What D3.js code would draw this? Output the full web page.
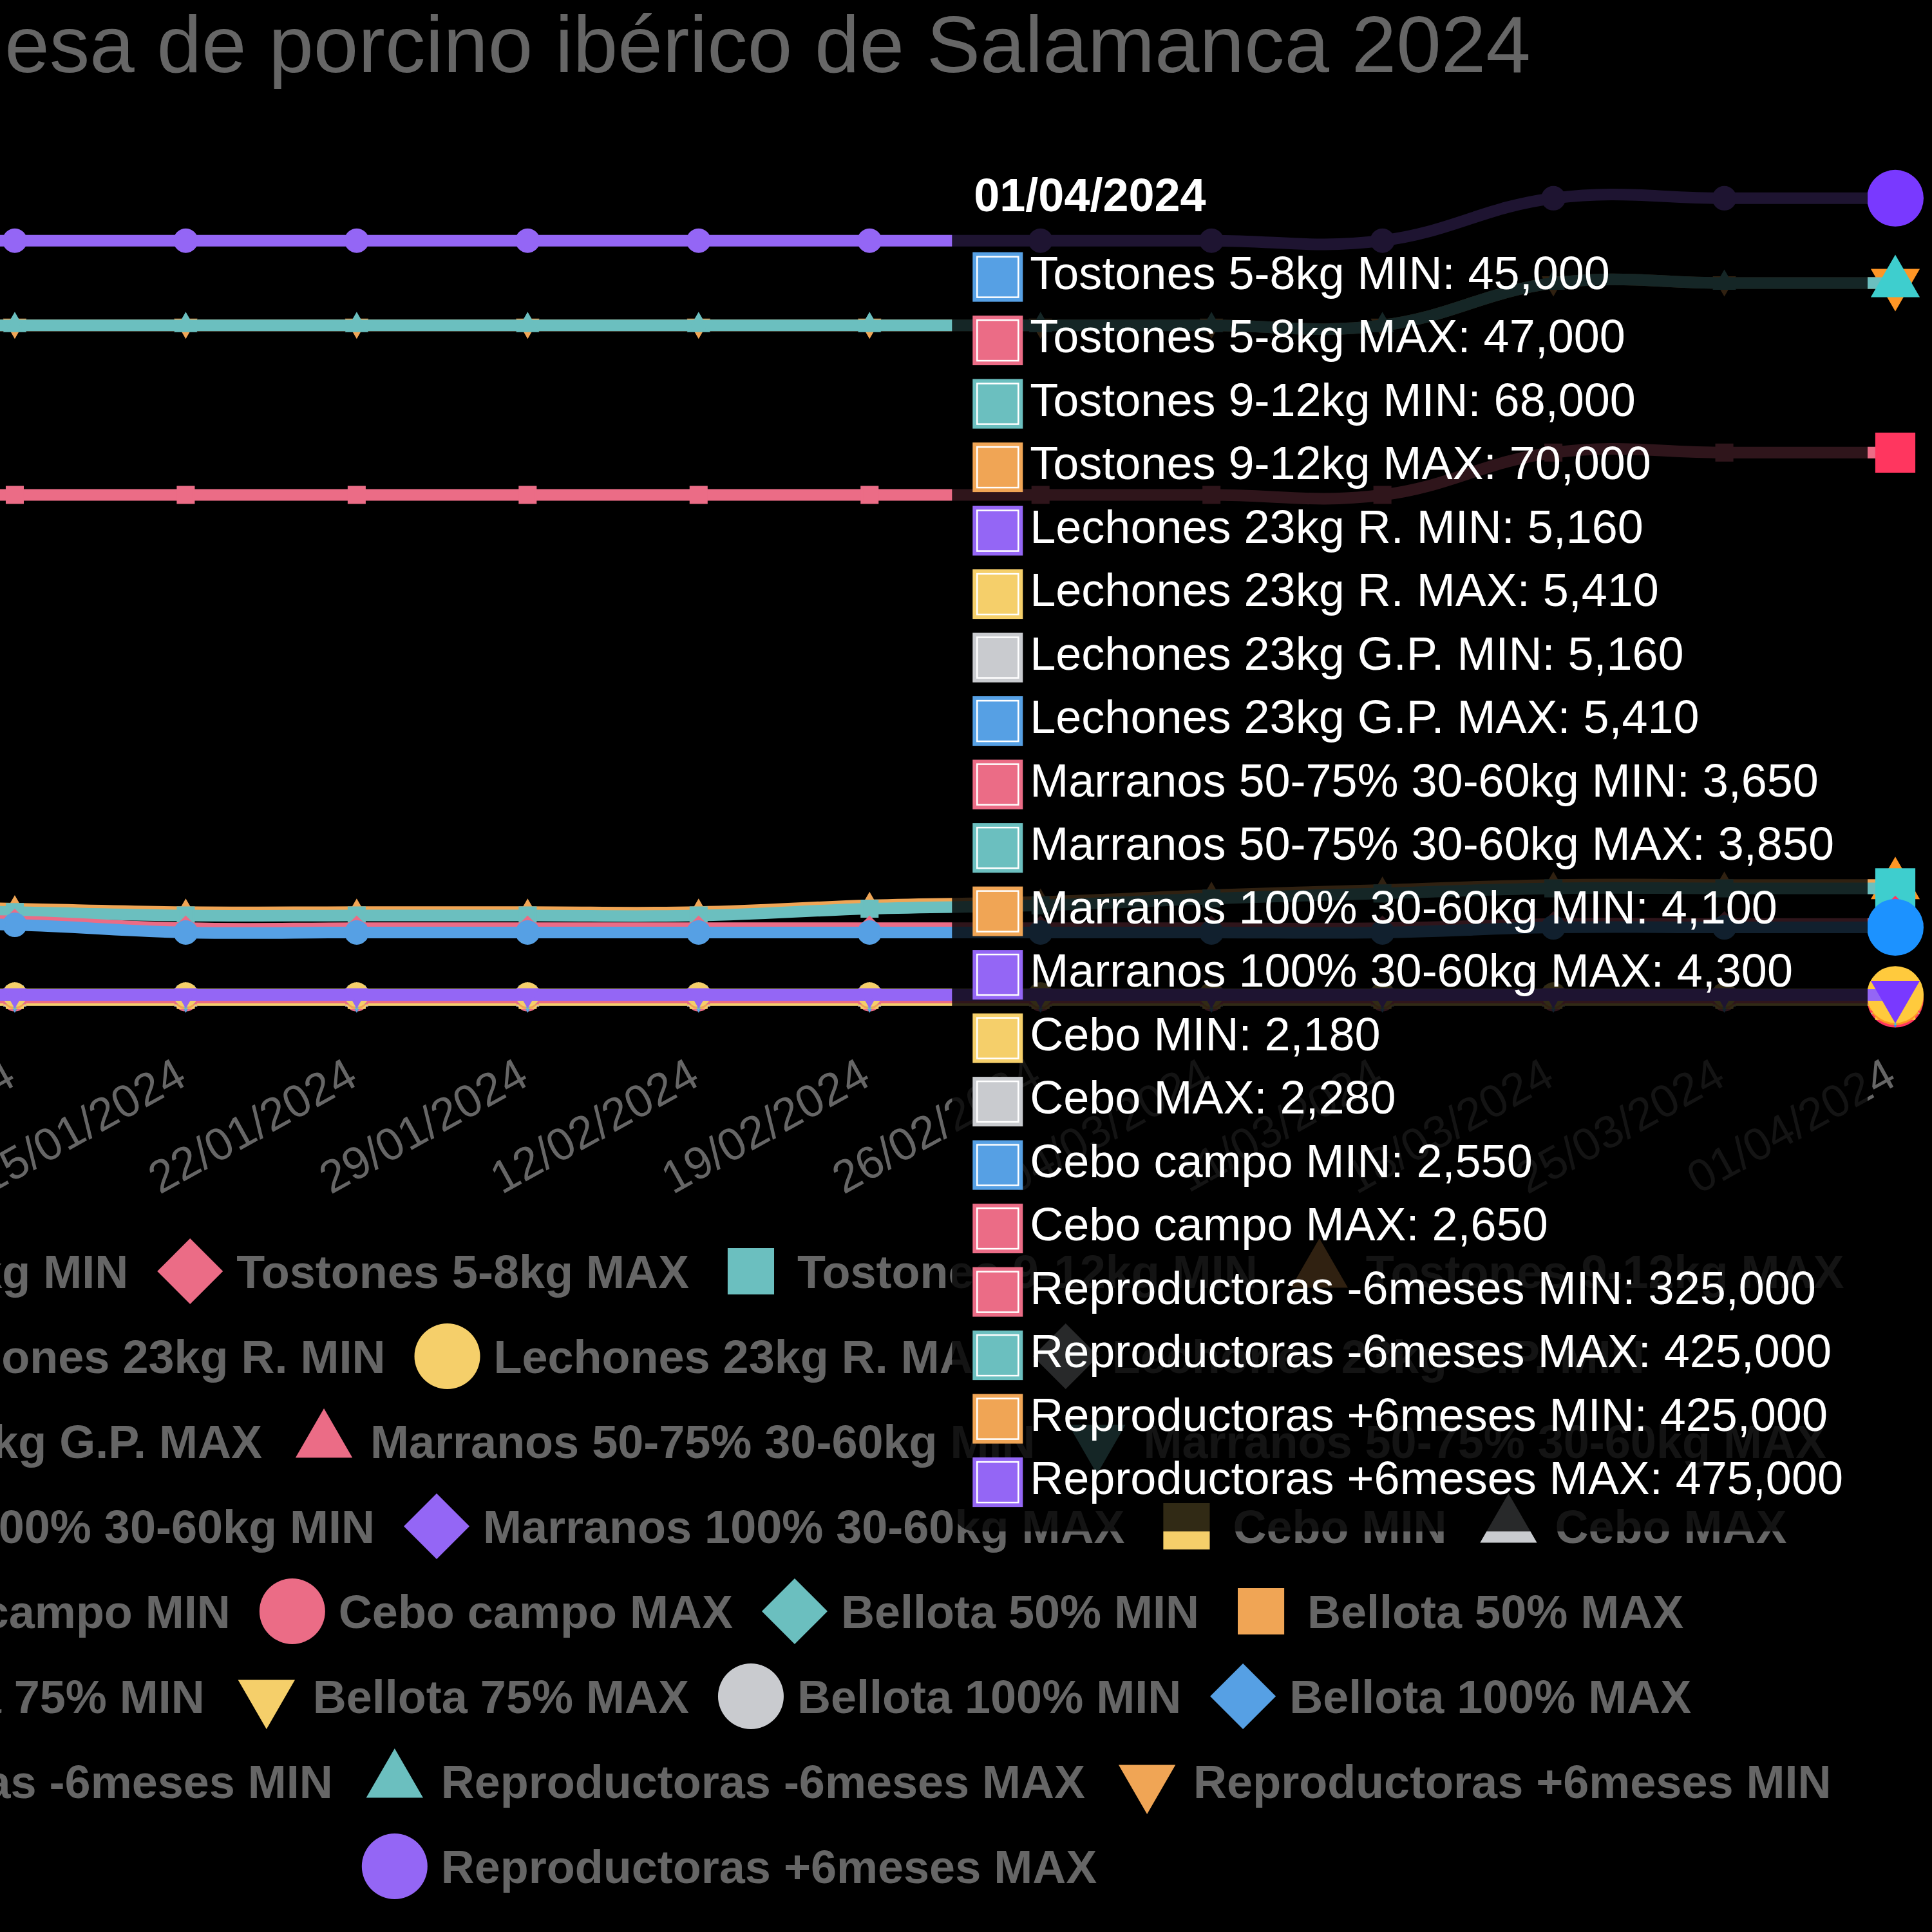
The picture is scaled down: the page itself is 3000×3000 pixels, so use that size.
<!DOCTYPE html>
<html lang="es">
<head>
<meta charset="utf-8">
<title>Mesa de porcino ibérico de Salamanca 2024</title>
<script src="https://cdn.jsdelivr.net/npm/d3@7"></script>
<style>
  body { margin: 0; background: #000; }
  svg { display: block; }
  text { font-family: "Liberation Sans", Arial, Helvetica, sans-serif; }
</style>
</head>
<body>
<svg id="chart" width="3000" height="3000"></svg>
<script>
// fechas de sesión (semanal)
const fechas = ["02/01/2024", "08/01/2024", "15/01/2024", "22/01/2024", "29/01/2024", "12/02/2024",
  "19/02/2024", "26/02/2024", "04/03/2024", "11/03/2024", "18/03/2024", "25/03/2024", "01/04/2024"];

// precios por categoría (null = sin cotización)
const tostones58Min  = [48000, 46500, 42000, 42000, 42000, 42000, 42000, 42000, 42000, 42000, 45000, 45000, 45000];
const tostones58Max  = [50000, 48500, 44500, 44500, 44500, 44500, 44500, 44500, 44500, 44500, 47000, 47000, 47000];
const tostones912Min = [56000, 54000, 52000, 52000, 52000, 52000, 56000, 58000, 62000, 65000, 68000, 68000, 68000];
const tostones912Max = [58000, 56000, 54000, 54000, 54000, 54000, 58000, 60000, 64000, 67000, 70000, 70000, 70000];
const lechonesRMin   = [5160, 5160, 5160, 5160, 5160, 5160, 5160, 5160, 5160, 5160, 5160, 5160, 5160];
const lechonesRMax   = [5410, 5410, 5410, 5410, 5410, 5410, 5410, 5410, 5410, 5410, 5410, 5410, 5410];
const lechonesGPMin  = [5160, 5160, 5160, 5160, 5160, 5160, 5160, 5160, 5160, 5160, 5160, 5160, 5160];
const lechonesGPMax  = [5410, 5410, 5410, 5410, 5410, 5410, 5410, 5410, 5410, 5410, 5410, 5410, 5410];
const marranos5075Min = [3650, 3650, 3650, 3650, 3650, 3650, 3650, 3650, 3650, 3650, 3650, 3650, 3650];
const marranos5075Max = [3850, 3850, 3850, 3850, 3850, 3850, 3850, 3850, 3850, 3850, 3850, 3850, 3850];
const marranos100Min = [4100, 4100, 4100, 4100, 4100, 4100, 4100, 4100, 4100, 4100, 4100, 4100, 4100];
const marranos100Max = [4300, 4300, 4300, 4300, 4300, 4300, 4300, 4300, 4300, 4300, 4300, 4300, 4300];
const ceboMin        = [2180, 2180, 2180, 2180, 2180, 2180, 2180, 2180, 2180, 2180, 2180, 2180, 2180];
const ceboMax        = [2280, 2280, 2280, 2280, 2280, 2280, 2280, 2280, 2280, 2280, 2280, 2280, 2280];
const ceboCampoMin   = [2550, 2550, 2550, 2550, 2550, 2550, 2550, 2550, 2550, 2550, 2550, 2550, 2550];
const ceboCampoMax   = [2650, 2650, 2650, 2650, 2650, 2650, 2650, 2650, 2650, 2650, 2650, 2650, 2650];
const bellota50Min   = [3300, 3300, 3300, 3300, 3300, 3300, 3300, 3300, 3300, 3300, null, null, null];
const bellota50Max   = [3450, 3450, 3450, 3450, 3450, 3450, 3450, 3450, 3450, 3450, null, null, null];
const bellota75Min   = [3600, 3600, 3600, 3600, 3600, 3600, 3600, 3600, 3600, 3600, null, null, null];
const bellota75Max   = [3750, 3750, 3750, 3750, 3750, 3750, 3750, 3750, 3750, 3750, null, null, null];
const bellota100Min  = [4100, 4100, 4100, 4100, 4100, 4100, 4100, 4100, 4100, 4100, null, null, null];
const bellota100Max  = [4300, 4300, 4300, 4300, 4300, 4300, 4300, 4300, 4300, 4300, null, null, null];
const reproMenos6Min = [300000, 300000, 300000, 300000, 300000, 300000, 300000, 300000, 300000, 300000, 325000, 325000, 325000];
const reproMenos6Max = [400000, 400000, 400000, 400000, 400000, 400000, 400000, 400000, 400000, 400000, 425000, 425000, 425000];
const reproMas6Min   = [400000, 400000, 400000, 400000, 400000, 400000, 400000, 400000, 400000, 400000, 425000, 425000, 425000];
const reproMas6Max   = [450000, 450000, 450000, 450000, 450000, 450000, 450000, 450000, 450000, 450000, 475000, 475000, 475000];

const nombres = ["Tostones 5-8kg MIN", "Tostones 5-8kg MAX", "Tostones 9-12kg MIN", "Tostones 9-12kg MAX",
  "Lechones 23kg R. MIN", "Lechones 23kg R. MAX", "Lechones 23kg G.P. MIN", "Lechones 23kg G.P. MAX",
  "Marranos 50-75% 30-60kg MIN", "Marranos 50-75% 30-60kg MAX", "Marranos 100% 30-60kg MIN", "Marranos 100% 30-60kg MAX",
  "Cebo MIN", "Cebo MAX", "Cebo campo MIN", "Cebo campo MAX",
  "Bellota 50% MIN", "Bellota 50% MAX", "Bellota 75% MIN", "Bellota 75% MAX", "Bellota 100% MIN", "Bellota 100% MAX",
  "Reproductoras -6meses MIN", "Reproductoras -6meses MAX", "Reproductoras +6meses MIN", "Reproductoras +6meses MAX"];

const valores = [tostones58Min, tostones58Max, tostones912Min, tostones912Max,
  lechonesRMin, lechonesRMax, lechonesGPMin, lechonesGPMax,
  marranos5075Min, marranos5075Max, marranos100Min, marranos100Max,
  ceboMin, ceboMax, ceboCampoMin, ceboCampoMax,
  bellota50Min, bellota50Max, bellota75Min, bellota75Max, bellota100Min, bellota100Max,
  reproMenos6Min, reproMenos6Max, reproMas6Min, reproMas6Max];

const colores = ["#56a0e4", "#eb6c86", "#6bbfbf", "#f0a555", "#9466f5", "#f5cf6a", "#c9cbcf"];
const formas = ["circle", "rectRot", "rect", "triangle", "triangleDown"];

const svg = d3.select("#chart");
svg.append("rect").attr("width", 3000).attr("height", 3000).attr("fill", "#000");

const x = d3.scalePoint().domain(fechas).range([-242.5, 2943]);
const y = d3.scaleLinear().domain([0, 500000]).range([1558.5, 242]);

/** color al pasar el ratón: más saturado y algo más oscuro */
function colorHover(c) {
  const h = d3.hsl(c);
  h.s = Math.min(1, h.s * 1.5);
  h.l = h.l * 0.9;
  return h.formatHex();
}

/** path de un marcador centrado en 0,0 */
function forma(tipo, r) {
  const p = d3.path();
  if (tipo === "circle") {
    p.arc(0, 0, r, 0, 2 * Math.PI);
  } else if (tipo === "rect") {
    const s = r * Math.SQRT1_2;
    p.rect(-s, -s, 2 * s, 2 * s);
  } else if (tipo === "rectRot") {
    p.moveTo(0, -r); p.lineTo(r, 0); p.lineTo(0, r); p.lineTo(-r, 0); p.closePath();
  } else {
    const d = tipo === "triangle" ? 1 : -1;
    p.moveTo(0, -r * d);
    p.lineTo(r * Math.sin(2 * Math.PI / 3), r * 0.5 * d);
    p.lineTo(-r * Math.sin(2 * Math.PI / 3), r * 0.5 * d);
    p.closePath();
  }
  return p.toString();
}

// título
const cx = 1140;
svg.append("text")
  .attr("x", cx).attr("y", 112)
  .attr("text-anchor", "middle")
  .attr("font-size", 125)
  .attr("fill", "#666")
  .text("Mesa de porcino ibérico de Salamanca 2024");

// etiquetas del eje x (giradas)
const etiquetas = svg.append("g").attr("class", "eje-x");
fechas.forEach(f => {
  const px = x(f) + 5, py = 1683;
  etiquetas.append("text")
    .attr("transform", "translate(" + px + "," + py + ") rotate(-29)")
    .attr("text-anchor", "end")
    .attr("font-size", 71)
    .attr("fill", "#666")
    .text(f);
});

// leyenda
const leyenda = svg.append("g").attr("class", "leyenda");
const pad = 60, caja = 72, fs = 72, maxAncho = 3690, fila0 = 1974, altoFila = 132;
const filas = [[]], anchos = [0];
nombres.forEach((n, i) => {
  const t = leyenda.append("text")
    .attr("font-size", fs).attr("font-weight", "bold").attr("fill", "#666")
    .text(n);
  const w = caja + fs / 2 + t.node().getComputedTextLength();
  if (i > 0 && anchos[anchos.length - 1] + w + 2 * pad > maxAncho) {
    filas.push([]); anchos.push(0);
  }
  filas[filas.length - 1].push({ i: i, w: w, t: t });
  anchos[anchos.length - 1] += w + pad;
});
filas.forEach((fila, r) => {
  let lx = cx + pad / 2 - anchos[r] / 2;
  const ly = fila0 + r * altoFila;
  fila.forEach(it => {
    leyenda.append("path")
      .attr("d", forma(formas[it.i % 5], 51))
      .attr("transform", "translate(" + (lx + caja / 2) + "," + ly + ")")
      .attr("fill", colores[it.i % 7]);
    it.t.attr("x", lx + caja + fs / 2).attr("y", ly + 26);
    lx += it.w + pad;
  });
});

// series: se dibujan de la última a la primera (la primera queda encima)
const ultimo = fechas.length - 1;
const linea = d3.line()
  .defined(d => d[1] != null)
  .x(d => x(d[0]))
  .y(d => y(d[1]))
  .curve(d3.curveCardinal.tension(-0.2));
const capaSeries = svg.append("g").attr("class", "series");
for (let i = valores.length - 1; i >= 0; i--) {
  const col = colores[i % 7];
  const puntos = fechas.map((f, k) => [f, valores[i][k]]);
  const g = capaSeries.append("g");
  g.append("path")
    .attr("d", linea(puntos))
    .attr("fill", "none")
    .attr("stroke", col)
    .attr("stroke-width", 18);
  g.selectAll(".punto")
    .data(puntos.filter((d, k) => d[1] != null && k !== ultimo))
    .enter().append("path")
    .attr("class", "punto")
    .attr("d", forma(formas[i % 5], 17))
    .attr("transform", d => "translate(" + x(d[0]) + "," + y(d[1]) + ")")
    .attr("fill", col)
    .attr("stroke", col)
    .attr("stroke-width", 4);
  if (valores[i][ultimo] != null) {
    g.append("path")
      .attr("d", forma(formas[i % 5], 44))
      .attr("transform", "translate(" + x(fechas[ultimo]) + "," + y(valores[i][ultimo]) + ")")
      .attr("fill", colorHover(col));
  }
}

// tooltip en la última fecha
const tip = svg.append("g").attr("class", "tooltip");
const activos = nombres.map((n, i) => i).filter(i => valores[i][ultimo] != null);
const fmt = d3.format(",");
const tipBg = tip.append("rect");
const tipTop = 238, paso = 98.5;
const textos = activos.map((i, j) => tip.append("text")
  .attr("y", tipTop + 210.6 + j * paso)
  .attr("font-size", 72)
  .attr("fill", "#fff")
  .text(nombres[i] + ": " + fmt(valores[i][ultimo])));
const maxW = d3.max(textos, t => t.node().getComputedTextLength());
const tipRight = x(fechas[ultimo]) - 43;
const textX = tipRight - 38 - maxW;
const tipLeft = textX - 121;
const tipBottom = tipTop + 210.6 + (activos.length - 1) * paso + 58;
tipBg.attr("x", tipLeft).attr("y", tipTop)
  .attr("width", tipRight - tipLeft).attr("height", tipBottom - tipTop)
  .attr("rx", 36).attr("fill", "rgba(0,0,0,0.8)");
tip.append("text")
  .attr("x", tipLeft + 34).attr("y", tipTop + 90)
  .attr("font-size", 72).attr("font-weight", "bold").attr("fill", "#fff")
  .text(fechas[ultimo]);
activos.forEach((i, j) => {
  const by = tipTop + 210.6 + j * paso - 57;
  textos[j].attr("x", textX);
  tip.append("rect")
    .attr("x", textX - 89).attr("y", by).attr("width", 78).attr("height", 77)
    .attr("fill", colores[i % 7]);
  tip.append("rect")
    .attr("x", textX - 89 + 7).attr("y", by + 7).attr("width", 64).attr("height", 63)
    .attr("fill", "none").attr("stroke", "#fff").attr("stroke-width", 2.5);
});
</script>
</body>
</html>
